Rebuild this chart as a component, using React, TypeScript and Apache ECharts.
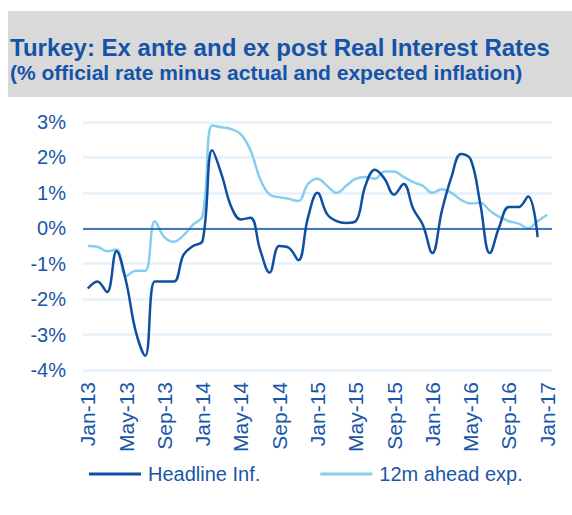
import React, { useEffect, useRef } from "react";
import * as echarts from "echarts";

const categories: string[] = [
  "Jan-13","Feb-13","Mar-13","Apr-13","May-13","Jun-13","Jul-13","Aug-13","Sep-13","Oct-13","Nov-13","Dec-13",
  "Jan-14","Feb-14","Mar-14","Apr-14","May-14","Jun-14","Jul-14","Aug-14","Sep-14","Oct-14","Nov-14","Dec-14",
  "Jan-15","Feb-15","Mar-15","Apr-15","May-15","Jun-15","Jul-15","Aug-15","Sep-15","Oct-15","Nov-15","Dec-15",
  "Jan-16","Feb-16","Mar-16","Apr-16","May-16","Jun-16","Jul-16","Aug-16","Sep-16","Oct-16","Nov-16","Dec-16",
  "Jan-17",
];

const headlineInf: (number | null)[] = [
  -1.7, -1.5, -1.8, -0.65, -1.5, -2.9, -3.6, -1.5, -1.5, -1.5, -0.75, -0.5,
  -0.35, 2.2, 1.5, 0.6, 0.25, 0.3, -0.6, -1.25, -0.5, -0.55, -0.9, 0.3,
  1.0, 0.4, 0.2, 0.15, 0.2, 1.2, 1.65, 1.4, 0.95, 1.25, 0.55, 0.1,
  -0.7, 0.5, 1.45, 2.1, 1.95, 0.7, -0.7, 0.05, 0.6, 0.6, 0.9, -0.25,
  null,
];

const aheadExp: number[] = [
  -0.5, -0.52, -0.65, -0.6, -1.35, -1.2, -1.2, 0.2, -0.25, -0.38, -0.2, 0.1,
  0.35, 2.9, 2.85, 2.8, 2.65, 2.2, 1.4, 0.95, 0.88, 0.83, 0.77, 1.25,
  1.4, 1.2, 1.0, 1.2, 1.4, 1.45, 1.4, 1.6, 1.6, 1.45, 1.3, 1.2,
  1.0, 1.1, 1.0, 0.8, 0.7, 0.72, 0.5, 0.32, 0.2, 0.13, 0.0, 0.2,
  0.38,
];

const yTicks = { min: -4, max: 3, interval: 1 };
const titleLine1 = "Turkey: Ex ante and ex post Real Interest Rates";
const titleLine2 = "(% official rate minus actual and expected inflation)";

const DARK = "#0F4FA2";
const LIGHT = "#87CEEE";
const TEXT = "#1A56A8";
const FONT = "'Liberation Sans', Arial, sans-serif";

export default function App() {
  const ref = useRef<HTMLDivElement>(null);
  useEffect(() => {
    document.body.style.margin = "0";
    const chart = echarts.init(ref.current!, null, { renderer: "svg" });
    chart.setOption({
      animation: false,
      backgroundColor: "#ffffff",
      textStyle: { fontFamily: FONT },
      graphic: [
        { type: "rect", left: 8, top: 11, shape: { width: 564, height: 86 }, style: { fill: "#D9D9D9" }, silent: true },
        { type: "text", left: 10, top: 35, style: { text: titleLine1, fill: "#1453A8", font: `bold 24px ${FONT}` } },
        { type: "text", left: 10, top: 62, style: { text: titleLine2, fill: "#1453A8", font: `bold 21px ${FONT}` } },
      ],
      grid: { left: 83, right: 20, top: 122, bottom: 145, containLabel: false },
      xAxis: {
        type: "category",
        data: categories,
        boundaryGap: true,
        axisLine: { show: false },
        axisTick: { show: false },
        splitLine: { show: false },
        axisLabel: { interval: 3, rotate: 90, margin: 12, color: TEXT, fontSize: 21, fontFamily: FONT },
      },
      yAxis: {
        type: "value",
        min: yTicks.min,
        max: yTicks.max,
        interval: yTicks.interval,
        axisLine: { show: false },
        axisTick: { show: false },
        splitLine: { lineStyle: { color: "#E6F2FB", width: 2.5 } },
        axisLabel: { formatter: "{value}%", margin: 17, color: TEXT, fontSize: 20, fontFamily: FONT },
      },
      legend: {
        data: [
          { name: "Headline Inf.", icon: "rect" },
          { name: "12m ahead exp.", icon: "rect" },
        ],
        left: 84,
        top: 459,
        itemWidth: 52,
        itemHeight: 3,
        itemGap: 60,
        textStyle: { color: TEXT, fontSize: 20, fontFamily: FONT, padding: [0, 0, 0, 2] },
      },
      series: [
        {
          name: "12m ahead exp.",
          type: "line",
          data: aheadExp,
          smooth: 0.4,
          symbol: "none",
          lineStyle: { color: LIGHT, width: 2.5 },
          itemStyle: { color: LIGHT },
          markLine: {
            silent: true,
            symbol: "none",
            label: { show: false },
            lineStyle: { color: DARK, width: 1.5, type: "solid" },
            data: [{ yAxis: 0 }],
          },
        },
        {
          name: "Headline Inf.",
          type: "line",
          data: headlineInf,
          smooth: 0.4,
          symbol: "none",
          lineStyle: { color: DARK, width: 2.5 },
          itemStyle: { color: DARK },
        },
      ],
    });
    return () => chart.dispose();
  }, []);
  return <div ref={ref} style={{ width: 572, height: 515 }} />;
}
